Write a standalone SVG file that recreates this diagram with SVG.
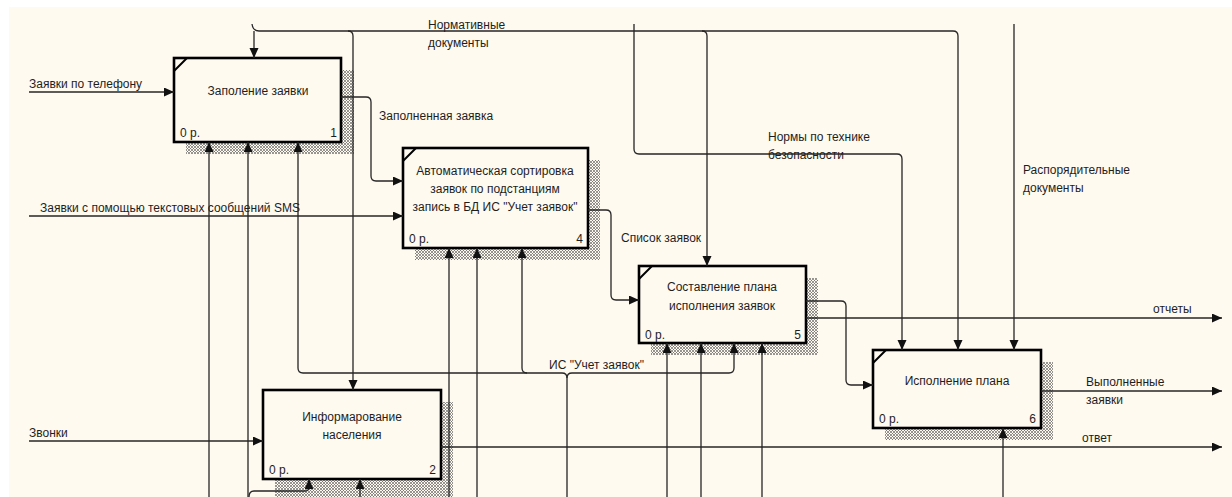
<svg xmlns="http://www.w3.org/2000/svg" width="1232" height="497" viewBox="0 0 1232 497">
<defs>
<pattern id="hatch" width="3" height="3" patternUnits="userSpaceOnUse">
<rect width="3" height="3" fill="#fffaf0"/>
<path d="M0,0 L3,3 M3,0 L0,3" stroke="#6a6a6a" stroke-width="0.7"/>
</pattern>
<marker id="arr" markerUnits="userSpaceOnUse" markerWidth="11" markerHeight="10" refX="10" refY="4.5" orient="auto">
<path d="M0,0 L10,4.5 L0,9 z" fill="#111"/>
</marker>
<style>
.box{fill:#fffaf0;stroke:#000;stroke-width:2.6}
.sh{fill:url(#hatch)}
.tick{stroke:#000;stroke-width:2}
.t{font-family:"Liberation Sans",Arial,sans-serif;font-size:12px;fill:#1e1e1e}
.c{text-anchor:middle}
.e{text-anchor:end}
.ln{fill:none;stroke:#262626;stroke-width:1.3}
.a{marker-end:url(#arr)}
</style>
</defs>
<rect width="1232" height="497" fill="#fff"/>
<rect x="9" y="7" width="1223" height="490" fill="#fffaf0"/>

<g id="node1">
<rect class="sh" x="186" y="70" width="168" height="84"/>
<rect class="box" x="174" y="58" width="167" height="84"/>
<line class="tick" x1="174" y1="71" x2="187" y2="58"/>
<text class="t c" x="258" y="95">Заполение заявки</text>
<text class="t" x="180" y="137">0 р.</text>
<text class="t e" x="337" y="137">1</text>
</g>

<g id="node4">
<rect class="sh" x="415" y="160" width="185" height="100"/>
<rect class="box" x="403" y="148" width="185" height="100"/>
<line class="tick" x1="403" y1="161" x2="416" y2="148"/>
<text class="t c" x="495" y="175">Автоматическая сортировка</text>
<text class="t c" x="495" y="193">заявок по подстанциям</text>
<text class="t c" x="495" y="211">запись в БД ИС "Учет заявок"</text>
<text class="t" x="409" y="243">0 р.</text>
<text class="t e" x="583" y="243">4</text>
</g>

<g id="node5">
<rect class="sh" x="651" y="278" width="167" height="77"/>
<rect class="box" x="639" y="266" width="167" height="77"/>
<line class="tick" x1="639" y1="279" x2="652" y2="266"/>
<text class="t c" x="722" y="291">Составление плана</text>
<text class="t c" x="722" y="310">исполнения заявок</text>
<text class="t" x="645" y="339">0 р.</text>
<text class="t e" x="801" y="339">5</text>
</g>

<g id="node6">
<rect class="sh" x="885" y="362" width="168" height="78"/>
<rect class="box" x="873" y="350" width="168" height="78"/>
<line class="tick" x1="873" y1="363" x2="886" y2="350"/>
<text class="t c" x="957" y="385">Исполнение плана</text>
<text class="t" x="879" y="423">0 р.</text>
<text class="t e" x="1036" y="423">6</text>
</g>

<g id="node2">
<rect class="sh" x="275" y="402" width="178" height="95"/>
<rect class="box" x="263" y="390" width="178" height="89"/>
<text class="t c" x="352" y="421">Информарование</text>
<text class="t c" x="352" y="439">населения</text>
<text class="t" x="269" y="474">0 р.</text>
<text class="t e" x="436" y="474">2</text>
</g>

<g id="connectors">
<path class="ln a" d="M252,24 Q253,31 259,31 H953 Q958,31 958,36 V350"/>
<path class="ln a" d="M254,31 V58"/>
<path class="ln a" d="M348,31 Q353,31 353,36 V390"/>
<path class="ln a" d="M702,31 Q707,31 707,36 V266"/>
<path class="ln a" d="M634,24 V149 Q634,154 639,154 H897 Q902,154 902,159 V350"/>
<path class="ln a" d="M1014,24 V350"/>

<path class="ln a" d="M29,92 H174"/>
<path class="ln a" d="M29,216 H403"/>
<path class="ln a" d="M29,441 H263"/>

<path class="ln a" d="M341,97 H366 Q371,97 371,102 V176 Q371,181 376,181 H403"/>
<path class="ln a" d="M588,210 H606 Q611,210 611,215 V295 Q611,300 616,300 H639"/>
<path class="ln a" d="M806,301 H841 Q846,301 846,306 V380 Q846,385 851,385 H873"/>
<path class="ln a" d="M806,318 H1222"/>
<path class="ln a" d="M1041,391 H1222"/>
<path class="ln a" d="M441,447 H1222"/>

<path class="ln a" d="M209,497 V142"/>
<path class="ln a" d="M248,497 V142"/>
<path class="ln a" d="M249,497 Q249,491 254,491 H305 Q309,491 309,487 V479"/>
<path class="ln a" d="M360,497 V479"/>
<path class="ln a" d="M567,497 V378 Q567,373 562,373 H303 Q298,373 298,368 V142"/>
<path class="ln a" d="M567,378 Q567,373 572,373 H729 Q734,373 734,368 V343"/>
<path class="ln a" d="M527,373 Q522,373 522,368 V248"/>
<path class="ln a" d="M449,497 V248"/>
<path class="ln a" d="M477,497 V248"/>
<path class="ln a" d="M667,497 V343"/>
<path class="ln a" d="M701,497 V343"/>
<path class="ln a" d="M762,497 V343"/>
<path class="ln a" d="M1003,497 V428"/>

<text class="t" x="428" y="29">Нормативные</text>
<text class="t" x="428" y="47">документы</text>
<text class="t" x="768" y="141">Нормы по технике</text>
<text class="t" x="768" y="159">безопасности</text>
<text class="t" x="1023" y="174">Распорядительные</text>
<text class="t" x="1023" y="192">документы</text>
<text class="t" x="29" y="88">Заявки по телефону</text>
<text class="t" x="40" y="212">Заявки с помощью текстовых сообщений SMS</text>
<text class="t" x="29" y="437">Звонки</text>
<text class="t" x="379" y="120">Заполненная заявка</text>
<text class="t" x="621" y="242">Список заявок</text>
<text class="t" x="549" y="369">ИС "Учет заявок"</text>
<text class="t" x="1153" y="313">отчеты</text>
<text class="t" x="1086" y="386">Выполненные</text>
<text class="t" x="1086" y="404">заявки</text>
<text class="t" x="1082" y="442">ответ</text>
</g>
</svg>
